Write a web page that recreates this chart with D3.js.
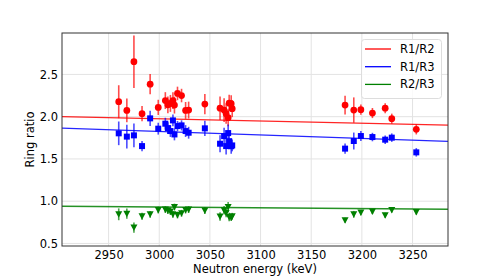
<!DOCTYPE html>
<html><head><meta charset="utf-8">
<script src="https://cdn.jsdelivr.net/npm/d3@7"></script>
<style>body{margin:0;background:#fff}svg{display:block}text{font-family:"DejaVu Sans",sans-serif}</style>
</head><body><svg id="c" width="498" height="277"></svg>
<script>
const energyL = [2960,2968,2975,2983,2991,2999,3006,3008.5,3011,3013.5,3015,3018,3022,3026,3029,3045,3060,3064,3066,3068,3069,3071,3072];
const energyR = [3183.4,3192,3199,3210.4,3223,3229.5,3253.7];
const energy = energyL.concat(energyR);

const r12 = [2.177,2.074,2.65,2.035,2.385,2.11,2.19,2.14,2.157,2.19,2.137,2.275,2.25,2.074,2.078,2.149,2.10,2.078,2.035,1.988,2.16,2.154,2.095,
             2.137,2.078,2.083,2.043,2.10,1.976,1.85];
const r12err = [0.195,0.14,0.31,0.09,0.12,0.09,0.1,0.1,0.1,0.1,0.1,0.08,0.08,0.1,0.1,0.12,0.14,0.14,0.12,0.1,0.1,0.1,0.1,
                0.11,0.15,0.06,0.06,0.06,0.06,0.06];
const r13 = [1.803,1.764,1.779,1.652,1.98,1.858,1.917,1.865,1.83,1.956,1.79,1.889,1.897,1.83,1.81,1.862,1.68,1.77,1.652,1.806,1.71,1.65,1.66,
             1.622,1.712,1.771,1.759,1.728,1.752,1.578];
const r13err = [0.14,0.14,0.14,0.06,0.09,0.07,0.07,0.07,0.07,0.07,0.07,0.06,0.06,0.07,0.07,0.09,0.1,0.1,0.1,0.1,0.09,0.09,0.07,
                0.06,0.1,0.06,0.05,0.05,0.05,0.05];
const r23 = [0.845,0.853,0.688,0.822,0.845,0.896,0.901,0.889,0.877,0.845,0.931,0.837,0.857,0.896,0.901,0.889,0.818,0.892,0.86,0.931,0.813,0.806,0.822,
             0.774,0.845,0.865,0.877,0.833,0.896,0.872];
const r23err = [0.07,0.06,0.06,0.04,0.04,0.04,0.04,0.04,0.04,0.04,0.04,0.04,0.04,0.04,0.04,0.04,0.05,0.05,0.05,0.06,0.05,0.04,0.04,
                0.03,0.04,0.03,0.03,0.03,0.03,0.03];

const fitX = [2904, 3285];
const fitR12 = [2.0, 1.90];
const fitR13 = [1.865, 1.708];
const fitR23 = [0.94, 0.905];

const xTicks = [2950,3000,3050,3100,3150,3200,3250];
const yTicks = [0.5,1.0,1.5,2.0,2.5];
const labels = ["R1/R2","R1/R3","R2/R3"];
const colors = ["#ff0000","#0000ff","#008000"];

const M = {l:62, r:448, t:33, b:246};
const svg = d3.select("#c");
const x = d3.scaleLinear().domain([2904, 3285]).range([M.l, M.r]);
const y = d3.scaleLinear().domain([0.47, 2.99]).range([M.b, M.t]);

// grid
svg.append("g").selectAll("line").data(xTicks).join("line")
  .attr("x1", d=>x(d)).attr("x2", d=>x(d)).attr("y1", M.t).attr("y2", M.b)
  .attr("stroke", "#e3e3e3").attr("stroke-width", 1);
svg.append("g").selectAll("line").data(yTicks).join("line")
  .attr("y1", d=>y(d)).attr("y2", d=>y(d)).attr("x1", M.l).attr("x2", M.r)
  .attr("stroke", "#e3e3e3").attr("stroke-width", 1);

const series = [
  {v:r12, e:r12err, fit:fitR12, shape:d3.symbolCircle, size:36},
  {v:r13, e:r13err, fit:fitR13, shape:d3.symbolSquare, size:36},
  {v:r23, e:r23err, fit:fitR23, shape:"tri", size:0}
];

const clip = svg.append("defs").append("clipPath").attr("id","clp").append("rect")
  .attr("x", M.l).attr("y", M.t).attr("width", M.r-M.l).attr("height", M.b-M.t);
const plot = svg.append("g").attr("clip-path","url(#clp)");

series.forEach((s, i) => {
  const c = colors[i];
  plot.append("line")
    .attr("x1", x(fitX[0])).attr("x2", x(fitX[1]))
    .attr("y1", y(s.fit[0])).attr("y2", y(s.fit[1]))
    .attr("stroke", c).attr("stroke-width", 1.3).attr("opacity", 0.85);
  const g = plot.append("g");
  g.selectAll("line").data(energy).join("line")
    .attr("x1", d=>x(d)).attr("x2", d=>x(d))
    .attr("y1", (d,j)=>y(s.v[j]-s.e[j])).attr("y2", (d,j)=>y(s.v[j]+s.e[j]))
    .attr("stroke", c).attr("stroke-width", 1.6).attr("opacity", 0.7);
  if (s.shape === "tri") {
    g.selectAll("path").data(energy).join("path")
      .attr("d", (d,j)=>{const cx=x(d), cy=y(s.v[j]); return `M${cx-3.5},${cy-3}L${cx+3.5},${cy-3}L${cx},${cy+3.5}Z`;})
      .attr("fill", c);
  } else {
    g.selectAll("path").data(energy).join("path")
      .attr("transform", (d,j)=>`translate(${x(d)},${y(s.v[j])})`)
      .attr("d", d3.symbol().type(s.shape).size(s.size))
      .attr("fill", c);
  }
});

// axes
const xa = svg.append("g").attr("transform", `translate(0,${M.b})`)
  .call(d3.axisBottom(x).tickValues(xTicks).tickSize(0).tickPadding(5).tickFormat(d3.format("d")));
const ya = svg.append("g").attr("transform", `translate(${M.l},0)`)
  .call(d3.axisLeft(y).tickValues(yTicks).tickSize(0).tickPadding(4).tickFormat(d3.format(".1f")));
[xa, ya].forEach(a => {
  a.select(".domain").remove();
  a.selectAll("text").attr("font-size", 11.5).attr("fill", "#000").attr("font-family", "DejaVu Sans");
});
svg.append("rect").attr("x", M.l).attr("y", M.t).attr("width", M.r-M.l).attr("height", M.b-M.t)
  .attr("fill","none").attr("stroke","#333").attr("stroke-width",1);

svg.append("text").attr("x", (M.l+M.r)/2).attr("y", 273).attr("text-anchor","middle")
  .attr("font-size", 11.5).text("Neutron energy (keV)");
svg.append("text").attr("transform", `translate(34,${(M.t+M.b)/2}) rotate(-90)`).attr("text-anchor","middle")
  .attr("font-size", 11.5).text("Ring ratio");

// legend
const lg = svg.append("g");
lg.append("rect").attr("x", 361.5).attr("y", 39.5).attr("width", 80).attr("height", 59).attr("rx", 3)
  .attr("fill", "#fff").attr("fill-opacity", 0.8).attr("stroke", "#ddd");
labels.forEach((t, i) => {
  const yy = 49 + i*17.7;
  lg.append("line").attr("x1", 365).attr("x2", 391).attr("y1", yy).attr("y2", yy)
    .attr("stroke", colors[i]).attr("stroke-width", 1.3);
  lg.append("text").attr("x", 400).attr("y", yy+4).attr("font-size", 11.5).text(t);
});
</script></body></html>
